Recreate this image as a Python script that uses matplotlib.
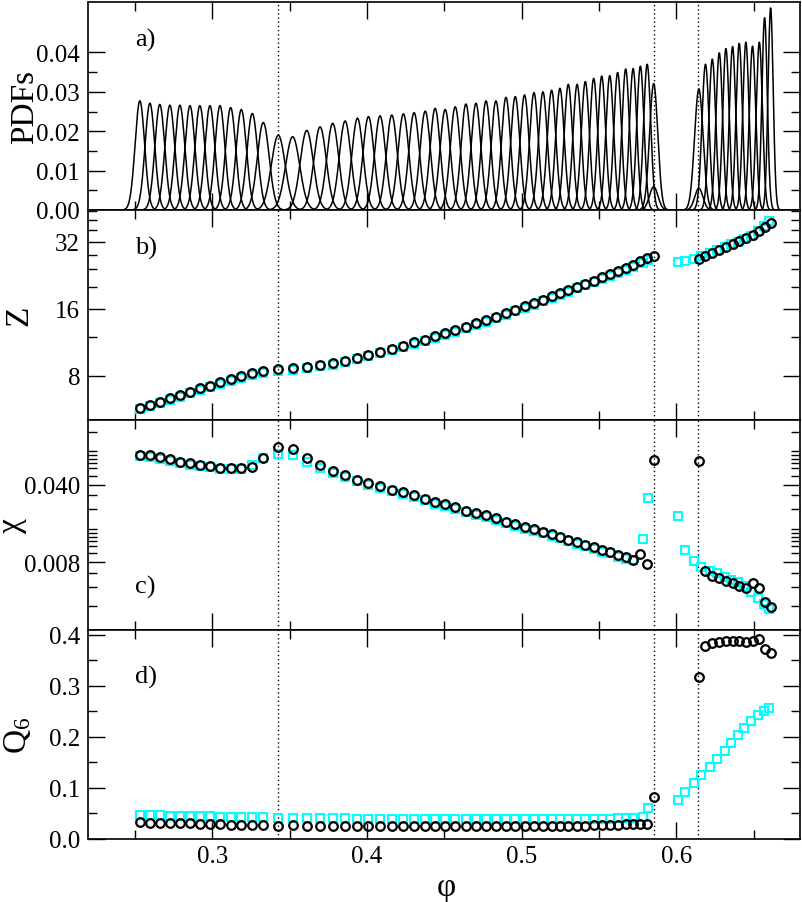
import numpy as np
import matplotlib
matplotlib.use("Agg")
import matplotlib.pyplot as plt
from matplotlib.ticker import MultipleLocator, NullFormatter, FixedLocator, FormatStrFormatter

plt.rcParams['font.family'] = ['Liberation Serif', 'DejaVu Serif']
plt.rcParams['mathtext.fontset'] = 'custom'
plt.rcParams['mathtext.rm'] = 'Liberation Serif'
plt.rcParams['mathtext.it'] = 'Liberation Serif:italic'

# ---------------- data ----------------
# black circles: liquid / crystal branches
phi_c1 = [0.2532, 0.2597, 0.2661, 0.2726, 0.2791, 0.2856, 0.2920, 0.2985, 0.3050, 0.3119,
          0.3188, 0.3259, 0.3330, 0.3427, 0.3520, 0.3611, 0.3697, 0.3779, 0.3859, 0.3939,
          0.4010, 0.4085, 0.4161, 0.4236, 0.4305, 0.4377, 0.4441, 0.4506, 0.4571, 0.4640,
          0.4705, 0.4770, 0.4834, 0.4899, 0.4959, 0.5019, 0.5080, 0.5138, 0.5194, 0.5248,
          0.5302, 0.5359, 0.5412, 0.5466, 0.5518, 0.5570, 0.5621, 0.5673, 0.5721, 0.5768,
          0.5812, 0.5854]
phi_c2 = [0.6146, 0.6189, 0.6233, 0.6278, 0.6321, 0.6364, 0.6407, 0.6450, 0.6493, 0.6537,
          0.6571, 0.6610]

Z_c1 = [5.73, 5.91, 6.11, 6.35, 6.55, 6.78, 7.02, 7.22, 7.47, 7.73,
        7.95, 8.20, 8.37, 8.54, 8.66, 8.78, 8.94, 9.13, 9.35, 9.65,
        9.92, 10.26, 10.58, 10.92, 11.31, 11.61, 12.03, 12.41, 12.83, 13.28,
        13.75, 14.23, 14.73, 15.30, 15.83, 16.40, 16.97, 17.56, 18.19, 18.82,
        19.40, 20.09, 20.66, 21.38, 22.14, 22.84, 23.56, 24.37, 25.14, 26.12,
        26.95, 27.68]
Z_c2 = [26.75, 27.50, 28.38, 29.37, 30.20, 31.15, 32.13, 33.15, 34.40, 35.80, 37.40, 38.80]

chi_c1 = [0.0746, 0.0736, 0.0706, 0.0677, 0.0644, 0.0624, 0.0606, 0.0590, 0.0569, 0.0562,
          0.0562, 0.0581, 0.0692, 0.0868, 0.0839, 0.0692, 0.0602, 0.0528, 0.0489, 0.0444,
          0.0414, 0.0387, 0.0361, 0.0342, 0.0321, 0.0299, 0.0278, 0.0268, 0.0250, 0.0233,
          0.0222, 0.0213, 0.0199, 0.0186, 0.0177, 0.0167, 0.0159, 0.0151, 0.0144, 0.0136,
          0.0128, 0.0121, 0.0115, 0.0109, 0.0103, 0.00996, 0.00935, 0.00896, 0.00842, 0.0095,
          0.0077, 0.0668]
chi_c2 = [0.0658, 0.0066, 0.00605, 0.00576, 0.00547, 0.00517, 0.00492, 0.00469, 0.00517,
          0.00465, 0.00349, 0.00315]

Q_c1 = [0.0326, 0.0320, 0.0313, 0.0313, 0.0307, 0.0307, 0.0300, 0.0294, 0.0287, 0.0281,
        0.0281, 0.0281, 0.0274, 0.0261, 0.0268, 0.0261, 0.0261, 0.0261, 0.0261, 0.0261,
        0.0255, 0.0255, 0.0255, 0.0255, 0.0255, 0.0255, 0.0255, 0.0255, 0.0255, 0.0255,
        0.0255, 0.0255, 0.0255, 0.0255, 0.0255, 0.0255, 0.0255, 0.0255, 0.0255, 0.0255,
        0.0261, 0.0261, 0.0261, 0.0268, 0.0268, 0.0274, 0.0281, 0.0287, 0.0294, 0.0294,
        0.0294, 0.0828]
Q_c2 = [0.3164, 0.377, 0.383, 0.386, 0.388, 0.388, 0.387, 0.385, 0.387, 0.391, 0.372, 0.3634]

# cyan squares
phi_s1 = [0.2532, 0.2597, 0.2661, 0.2726, 0.2791, 0.2856, 0.2920, 0.2985, 0.3050, 0.3119,
          0.3188, 0.3259, 0.3330, 0.3427, 0.3520, 0.3611, 0.3697, 0.3779, 0.3859, 0.3939,
          0.4010, 0.4085, 0.4161, 0.4236, 0.4305, 0.4377, 0.4441, 0.4506, 0.4571, 0.4640,
          0.4705, 0.4770, 0.4834, 0.4899, 0.4959, 0.5019, 0.5080, 0.5138, 0.5194, 0.5248,
          0.5302, 0.5359, 0.5412, 0.5466, 0.5518, 0.5570, 0.5621, 0.5673, 0.5721, 0.5785,
          0.5815]
phi_s2 = [0.6012, 0.6055, 0.6113, 0.6163, 0.6217, 0.6264, 0.6312, 0.6357, 0.6398, 0.6441,
          0.6485, 0.6528, 0.6566, 0.6599]

Z_s1 = [5.65, 5.83, 6.02, 6.25, 6.45, 6.68, 6.91, 7.11, 7.36, 7.61,
        7.83, 8.07, 8.22, 8.40, 8.52, 8.64, 8.80, 8.98, 9.20, 9.50,
        9.77, 10.10, 10.42, 10.75, 11.13, 11.43, 11.85, 12.22, 12.63, 13.07,
        13.54, 14.01, 14.50, 15.06, 15.58, 16.14, 16.70, 17.28, 17.90, 18.52,
        19.10, 19.78, 20.34, 21.05, 21.80, 22.48, 23.19, 23.98, 24.74, 25.70,
        26.50]
Z_s2 = [25.9, 26.3, 26.8, 27.6, 28.5, 29.4, 30.3, 31.2, 32.0, 33.0, 34.0, 35.8, 37.5, 39.5]

chi_s1 = [0.0720, 0.0710, 0.0685, 0.0655, 0.0625, 0.0605, 0.0588, 0.0572, 0.0555, 0.0550,
          0.0555, 0.0600, 0.0700, 0.0760, 0.0740, 0.0640, 0.0570, 0.0505, 0.0468, 0.0428,
          0.0398, 0.0372, 0.0348, 0.0329, 0.0309, 0.0288, 0.0267, 0.0258, 0.0241, 0.0225,
          0.0214, 0.0205, 0.0192, 0.0179, 0.0170, 0.0161, 0.0153, 0.0146, 0.0139, 0.0131,
          0.0123, 0.0117, 0.0111, 0.0105, 0.0099, 0.0096, 0.0090, 0.0086, 0.0083, 0.0129,
          0.0302]
chi_s2 = [0.0208, 0.0104, 0.00827, 0.0072, 0.0067, 0.00638, 0.00585, 0.00557, 0.00527,
          0.00492, 0.00428, 0.0038, 0.00336, 0.00303]

Q_s1 = [0.0476, 0.0470, 0.0465, 0.0460, 0.0457, 0.0452, 0.0448, 0.0445, 0.0440, 0.0437,
        0.0433, 0.0430, 0.0427, 0.0420, 0.0415, 0.0410, 0.0407, 0.0405, 0.0403, 0.0400,
        0.0398, 0.0396, 0.0395, 0.0393, 0.0392, 0.0391, 0.0390, 0.0389, 0.0388, 0.0388,
        0.0387, 0.0387, 0.0386, 0.0386, 0.0386, 0.0386, 0.0387, 0.0387, 0.0388, 0.0389,
        0.0390, 0.0391, 0.0393, 0.0395, 0.0397, 0.0400, 0.0403, 0.0407, 0.0412, 0.0424,
        0.0600]
Q_s2 = [0.0763, 0.0913, 0.109, 0.125, 0.140, 0.1566, 0.1728, 0.1879, 0.2035, 0.2172,
        0.2303, 0.2427, 0.2511, 0.2564]

# PDF peak heights, one curve per circle state point
pdf_peak1 = [0.0277, 0.0271, 0.0268, 0.0266, 0.0266, 0.0265, 0.0265, 0.0265, 0.0265, 0.0260,
             0.0255, 0.0245, 0.0222, 0.0190, 0.0186, 0.0202, 0.0211, 0.0220, 0.0226, 0.0233,
             0.0237, 0.0239, 0.0241, 0.0244, 0.0247, 0.0251, 0.0258, 0.0255, 0.0262, 0.0269,
             0.0271, 0.0277, 0.0277, 0.0286, 0.0288, 0.0292, 0.0298, 0.0300, 0.0304, 0.0309,
             0.0319, 0.0319, 0.0326, 0.0334, 0.0340, 0.0341, 0.0349, 0.0358, 0.0359, 0.0365,
             0.0370, 0.0321]
pdf_peak2 = [0.0307, 0.0370, 0.0383, 0.0399, 0.0410, 0.0415, 0.0423, 0.0426, 0.0416, 0.0426,
             0.0488, 0.0513]
# secondary (coexistence) bumps: (curve center, bump center, bump height)
pdf_bumps = [(0.5854, 0.6146, 0.0055), (0.6146, 0.5854, 0.0059)]

transitions = [0.3423, 0.5854, 0.6142]

pdf_ticks = [0.00, 0.01, 0.02, 0.03, 0.04]
pdf_minor = [0.005, 0.015, 0.025, 0.035]
Z_ticks = [8, 16, 32]
Z_minor = [12, 20, 24, 28, 36, 40, 44]
chi_ticks = [0.008, 0.04]
chi_ticklabels = ['0.008', '0.040']
chi_minor = [0.0032, 0.0048, 0.0064, 0.0096, 0.0113, 0.0124, 0.0134, 0.0146, 0.016,
             0.024, 0.032, 0.048, 0.0566, 0.0624, 0.0683, 0.0746, 0.08, 0.12]

# ---------------- figure ----------------
W, H = 803, 903
fig = plt.figure(figsize=(W / 100, H / 100), dpi=100)
left = 88.5 / W
width = (800 - 88.5) / W
edges = [3, 211, 421, 631, 840]
axes = []
for i in range(4):
    top = 1 - edges[i] / H
    bot = 1 - edges[i + 1] / H
    axes.append(fig.add_axes([left, bot, width, top - bot]))
axA, axB, axC, axD = axes

TICK_FS = 18
LABEL_FS = 24
for ax in axes:
    ax.set_xlim(0.22, 0.68)
    ax.xaxis.set_major_locator(MultipleLocator(0.1))
    ax.xaxis.set_minor_locator(MultipleLocator(0.05))
    ax.tick_params(which='both', direction='in', top=True, right=True, width=1.0,
                   labelsize=TICK_FS)
    ax.tick_params(which='major', length=12.5)
    ax.tick_params(which='minor', length=6.5)
    ax.tick_params(axis='y', pad=6)
    ax.tick_params(axis='x', pad=4)
    for s in ax.spines.values():
        s.set_linewidth(1.2)
    for xv in transitions:
        ax.axvline(xv, color='black', lw=1.0, ls=(0, (1, 2)), zorder=1)
    if ax is not axD:
        ax.tick_params(labelbottom=False)

# panel a: PDFs
xg = np.linspace(0.22, 0.68, 3000)
AREA = 2.13e-4
centers = phi_c1 + phi_c2
peaks = pdf_peak1 + pdf_peak2
for c, h in zip(centers, peaks):
    s = AREA / (h * np.sqrt(2 * np.pi))
    y = h * np.exp(-(xg - c) ** 2 / (2 * s ** 2))
    for cc, bc, bh in pdf_bumps:
        if abs(cc - c) < 1e-6:
            y = y + bh * np.exp(-(xg - bc) ** 2 / (2 * s ** 2))
    axA.plot(xg, y, color='black', lw=1.1, zorder=2)
axA.set_ylim(0, 0.0528)
axA.yaxis.set_major_locator(FixedLocator(pdf_ticks))
axA.yaxis.set_minor_locator(FixedLocator(pdf_minor))
axA.yaxis.set_major_formatter(FormatStrFormatter('%.2f'))

CYAN = '#00ffff'
circ = dict(ls='none', marker='o', ms=6.2, mfc='none', mec='black', mew=1.6, zorder=4)
sq = dict(ls='none', marker='s', ms=5.2, mfc='none', mec=CYAN, mew=1.5, zorder=3)

# panel b: Z
axB.set_yscale('log', base=2)
axB.plot(phi_s1, Z_s1, **sq)
axB.plot(phi_s2, Z_s2, **sq)
axB.plot(phi_c1, Z_c1, **circ)
axB.plot(phi_c2, Z_c2, **circ)
axB.set_ylim(5.06, 44.4)
axB.set_yticks(Z_ticks, labels=[str(v) for v in Z_ticks])
axB.set_yticks(Z_minor, minor=True)
axB.yaxis.set_minor_formatter(NullFormatter())

# panel c: chi
axC.set_yscale('log')
axC.plot(phi_s1, chi_s1, **sq)
axC.plot(phi_s2, chi_s2, **sq)
axC.plot(phi_c1, chi_c1, **circ)
axC.plot(phi_c2, chi_c2, **circ)
axC.set_ylim(0.00196, 0.153)
axC.set_yticks(chi_ticks, labels=chi_ticklabels)
axC.set_yticks(chi_minor, minor=True)
axC.yaxis.set_minor_formatter(NullFormatter())

# panel d: Q6
axD.plot(phi_s1, Q_s1, **sq)
axD.plot(phi_s2, Q_s2, **sq)
axD.plot(phi_c1, Q_c1, **circ)
axD.plot(phi_c2, Q_c2, **circ)
axD.set_ylim(0, 0.4092)
axD.yaxis.set_major_locator(MultipleLocator(0.1))
axD.yaxis.set_minor_locator(MultipleLocator(0.05))
axD.yaxis.set_major_formatter(FormatStrFormatter('%.1f'))
axD.xaxis.set_major_formatter(FormatStrFormatter('%.1f'))

# axis labels
def ylab(ax, text, xpx):
    ax.set_ylabel(text, fontsize=LABEL_FS)
    ax.yaxis.set_label_coords((xpx - 88.5) / 711.5, 0.5)
    ax.yaxis.label.set_verticalalignment('baseline')

ylab(axA, 'PDFs', 33)
ylab(axB, 'Z', 27)
ylab(axC, r'$\mathregular{\chi}$', 20)
ylab(axD, r'Q$_\mathregular{6}$', 26)
fig.text(446 / W, 1 - 896 / H, 'φ', fontsize=LABEL_FS, ha='center', va='baseline')

# panel tags
tags = [(axA, 'a)', 0.822), (axB, 'b)', 0.824), (axC, 'c)', 0.207), (axD, 'd)', 0.777)]
for ax, t, yy in tags:
    ax.text((135 - 88.5) / 711.5, yy, t, transform=ax.transAxes, fontsize=19,
            ha='left', va='center')

fig.savefig('out.png', dpi=100)
